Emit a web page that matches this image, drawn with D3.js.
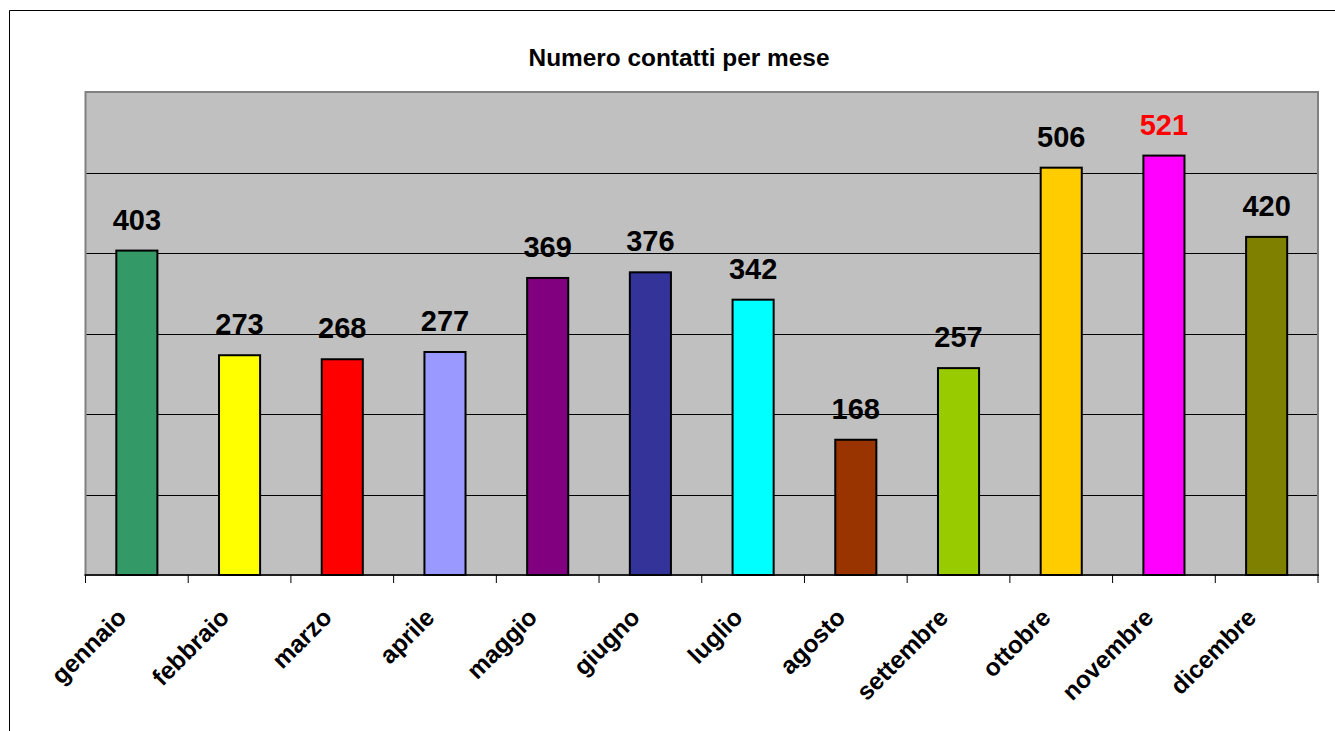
<!DOCTYPE html>
<html><head><meta charset="utf-8">
<script src="https://cdn.jsdelivr.net/npm/d3@7"></script>
<style>html,body{margin:0;padding:0;background:#fff;overflow:hidden;width:1335px;height:731px}svg{display:block}</style>
</head><body>
<svg id="c" width="1335" height="731" viewBox="0 0 1335 731"></svg>
<script>
const title = "Numero contatti per mese";
const months = ["gennaio","febbraio","marzo","aprile","maggio","giugno","luglio","agosto","settembre","ottobre","novembre","dicembre"];
const values = [403,273,268,277,369,376,342,168,257,506,521,420];
const colors = ["#339966","#FFFF00","#FF0000","#9999FF","#800080","#333399","#00FFFF","#993300","#99CC00","#FFCC00","#FF00FF","#808000"];
const labelColors = ["#000","#000","#000","#000","#000","#000","#000","#000","#000","#000","#FF0000","#000"];
const yTicks = [0,100,200,300,400,500,600];

const svg = d3.select("#c");
const font = "'Liberation Sans', Arial, sans-serif";
const L = 85.5, R = 1318, T = 92, B = 575;

svg.append("rect").attr("x",0).attr("y",0).attr("width",1335).attr("height",731).attr("fill","#fff");

// outer chart border (top and left only visible)
svg.append("line").attr("x1",9.5).attr("x2",1340).attr("y1",10.5).attr("y2",10.5)
  .attr("stroke","#000").attr("stroke-width",1);
svg.append("line").attr("x1",9.5).attr("x2",9.5).attr("y1",10.5).attr("y2",740)
  .attr("stroke","#000").attr("stroke-width",1);

const x = d3.scaleBand().domain(months).range([L,R]).padding(0);
const y = d3.scaleLinear().domain([0,600]).range([B,T]);

// plot area
svg.append("rect").attr("x",L).attr("y",T).attr("width",R-L).attr("height",B-T)
  .attr("fill","#C0C0C0").attr("stroke","#808080").attr("stroke-width",2);

// gridlines
svg.append("g").selectAll("line").data(yTicks.filter(v=>v>0 && v<600)).join("line")
  .attr("x1",L+1).attr("x2",R-1)
  .attr("y1",d=>Math.round(y(d))+0.5).attr("y2",d=>Math.round(y(d))+0.5)
  .attr("stroke","#000").attr("stroke-width",1);

// bars
const bw = x.bandwidth()*0.4;
svg.append("g").selectAll("rect").data(months).join("rect")
  .attr("x",(d)=>x(d)+x.bandwidth()/2-bw/2)
  .attr("y",(d,i)=>y(values[i]))
  .attr("width",bw)
  .attr("height",(d,i)=>y(0)-y(values[i]))
  .attr("fill",(d,i)=>colors[i])
  .attr("stroke","#000").attr("stroke-width",2);

// x axis line and ticks
const ax = svg.append("g");
ax.append("line").attr("x1",L-1).attr("x2",R+1).attr("y1",B).attr("y2",B)
  .attr("stroke","#000").attr("stroke-width",1.5);
const bounds = months.map(m=>x(m)).concat([R]);
ax.selectAll("line.t").data(bounds).join("line").attr("class","t")
  .attr("x1",d=>d).attr("x2",d=>d).attr("y1",B).attr("y2",B+8)
  .attr("stroke","#000").attr("stroke-width",1);

// x labels
svg.append("g").selectAll("text").data(months).join("text")
  .attr("transform",d=>`translate(${x(d)+x.bandwidth()/2-9},${B+44}) rotate(-45)`)
  .attr("text-anchor","end")
  .attr("font-family",font).attr("font-weight","bold").attr("font-size",24.5)
  .attr("fill","#000").text(d=>d);

// value labels
svg.append("g").selectAll("text").data(months).join("text")
  .attr("x",d=>x(d)+x.bandwidth()/2)
  .attr("y",(d,i)=>y(values[i])-21)
  .attr("text-anchor","middle")
  .attr("font-family",font).attr("font-weight","bold").attr("font-size",29)
  .attr("fill",(d,i)=>labelColors[i]).text((d,i)=>values[i]);

// title
svg.append("text").attr("x",(528+830)/2).attr("y",65.5).attr("text-anchor","middle")
  .attr("font-family",font).attr("font-weight","bold").attr("font-size",24.4)
  .attr("fill","#000").text(title);
</script>
</body></html>
